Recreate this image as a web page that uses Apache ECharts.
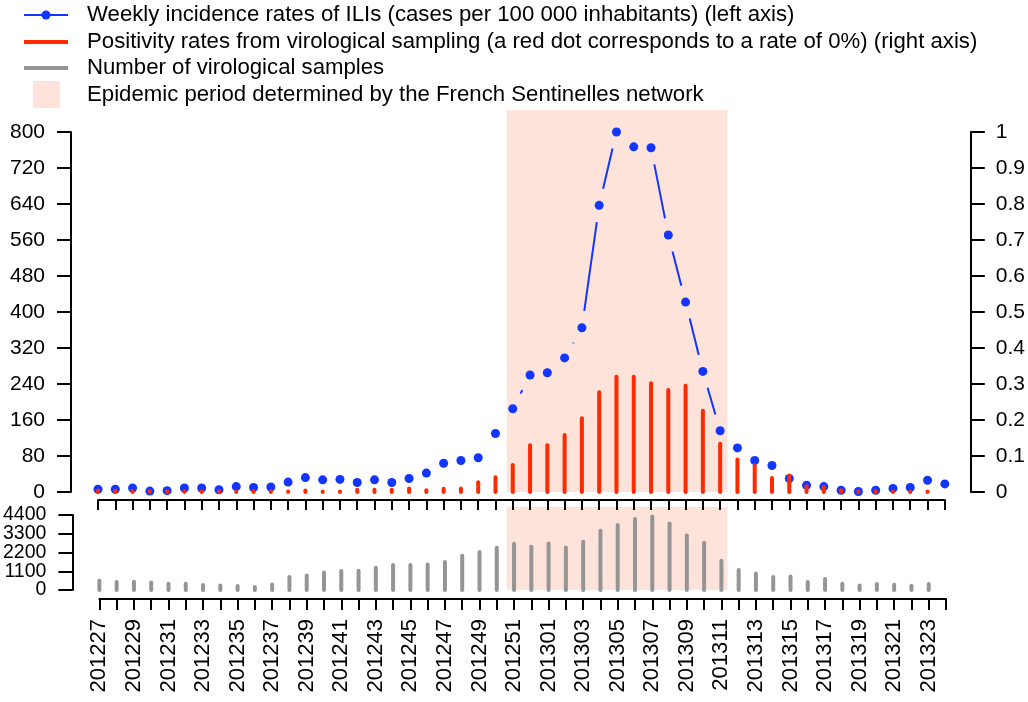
<!DOCTYPE html>
<html><head><meta charset="utf-8">
<script src="https://cdn.jsdelivr.net/npm/echarts@6/dist/echarts.min.js"></script>
<style>html,body{margin:0;padding:0;background:#fff}#c{width:1028px;height:702px}</style>
</head><body><div id="c"></div>
<script>
// ---- data ----
const weeks = ['201227','201228','201229','201230','201231','201232','201233','201234','201235','201236',
  '201237','201238','201239','201240','201241','201242','201243','201244','201245','201246',
  '201247','201248','201249','201250','201251','201252','201301','201302','201303','201304',
  '201305','201306','201307','201308','201309','201310','201311','201312','201313','201314',
  '201315','201316','201317','201318','201319','201320','201321','201322','201323','201324'];
const iliRates = [6,6,9,2,3,9,9,5,12,10,11,22,32,27,28,21,27,21,30,42,64,70,76,130,185,260,265,298,365,637,
  800,767,765,571,422,268,136,98,70,59,30,15,12,4,1,4,8,10,26,18];
const positivity = [0.004,0.004,0.003,0.002,0.002,0.002,0.002,0.002,0,0.002,0.003,0,0.004,0,0,0.006,0.006,0.006,0.01,0.005,
  0.009,0.01,0.027,0.041,0.075,0.13,0.13,0.158,0.205,0.277,0.32,0.32,0.302,0.283,0.295,0.226,0.134,0.09,0.074,0.039,
  0.046,0.016,0.014,0.005,0,0.002,0,0,0,null];
const samples = [545,469,487,446,370,370,293,270,235,176,328,762,856,1032,1114,1132,1308,1466,1466,1501,
  1642,2012,2229,2481,2716,2540,2735,2500,2833,3478,3812,4164,4317,3906,3202,2774,1718,1173,974,762,
  798,469,645,370,270,352,311,252,352,null];
const sampleTicks = [0, 1100, 2200, 3300, 4400];
const epidemicStart = '201251';
const epidemicEnd = '201311';
const legendLabels = [
  'Weekly incidence rates of ILIs (cases per 100 000 inhabitants) (left axis)',
  'Positivity rates from virological sampling (a red dot corresponds to a rate of 0%) (right axis)',
  'Number of virological samples',
  'Epidemic period determined by the French Sentinelles network'
];

// ---- style / layout ----
const BLUE = '#1236ff', RED = '#ff2a00', GRAY = '#959595', PINK = '#fde3d9';
const FONT = '"Liberation Sans", Arial, Helvetica, sans-serif';
const nW = weeks.length;
const BOT_TOP = 515, BOT_H = 75;
const sMin = sampleTicks[0], sMax = sampleTicks[sampleTicks.length - 1], sStep = sampleTicks[1] - sampleTicks[0];
const pxPerUnit = BOT_H / (sMax - sMin);
// auxiliary grid carrying the odd ticks (1100, 3300) on the same scale as the bottom panel
const AUX_TOP = BOT_TOP + (sMax - sampleTicks[3]) * pxPerUnit;
const AUX_H = (sampleTicks[3] - sampleTicks[1]) * pxPerUnit;

const chart = echarts.init(document.getElementById('c'), null, {renderer: 'canvas'});

const baseX = {type: 'value', min: 0, max: nW - 1, interval: 1, splitLine: {show: false}};
const axLine = {show: true, onZero: false, lineStyle: {color: '#000', width: 2}};
const axTick = (len) => ({show: true, length: len, inside: false, lineStyle: {color: '#000', width: 2}});
const yLabel = (margin, size) => ({margin: margin, fontSize: size, color: '#000', fontFamily: FONT,
  showMinLabel: true, showMaxLabel: true, hideOverlap: false, formatter: (v) => String(v)});

function stem(color, width) {
  return function (params, api) {
    const v = api.value(1);
    if (v == null || isNaN(v)) return null;
    const p0 = api.coord([api.value(0), 0]);
    const p1 = api.coord([api.value(0), v]);
    const y2 = Math.abs(p1[1] - p0[1]) < 0.5 ? p0[1] - 0.5 : p1[1];
    return {type: 'line', shape: {x1: p0[0], y1: p0[1], x2: p1[0], y2: y2},
      style: {stroke: color, lineWidth: width, lineCap: 'round'}};
  };
}
function shade(params, api) {
  const a = api.coord([api.value(0), 1]);
  const b = api.coord([api.value(1), 0]);
  return {type: 'rect', shape: {x: a[0], y: a[1], width: b[0] - a[0], height: b[1] - a[1]},
    style: {fill: PINK}};
}
const GAP = 17;
function brokenLine(params, api) {
  const i = api.value(0);
  if (i >= nW - 1) return null;
  const p1 = api.coord([i, api.value(1)]);
  const p2 = api.coord([i + 1, iliRates[i + 1]]);
  const dx = p2[0] - p1[0], dy = p2[1] - p1[1];
  const d = Math.sqrt(dx * dx + dy * dy);
  if (d <= 2 * GAP) return null;
  const ux = dx / d, uy = dy / d;
  return {type: 'line', shape: {x1: p1[0] + ux * GAP, y1: p1[1] + uy * GAP, x2: p2[0] - ux * GAP, y2: p2[1] - uy * GAP},
    style: {stroke: BLUE, lineWidth: 2}};
}

const sIdx = weeks.indexOf(epidemicStart) - 0.38;
const eIdx = weeks.indexOf(epidemicEnd) + 0.37;

const legendGraphics = [];
const rowY = [15, 42, 68, 95];
legendGraphics.push({type: 'line', shape: {x1: 24, y1: rowY[0], x2: 68, y2: rowY[0]}, style: {stroke: BLUE, lineWidth: 2}});
legendGraphics.push({type: 'circle', shape: {cx: 46, cy: rowY[0], r: 4.5}, style: {fill: BLUE}});
legendGraphics.push({type: 'line', shape: {x1: 24, y1: rowY[1], x2: 68, y2: rowY[1]}, style: {stroke: RED, lineWidth: 4}});
legendGraphics.push({type: 'line', shape: {x1: 24, y1: rowY[2], x2: 68, y2: rowY[2]}, style: {stroke: GRAY, lineWidth: 4}});
legendGraphics.push({type: 'rect', shape: {x: 33, y: 81, width: 27, height: 27}, style: {fill: PINK}});
legendLabels.forEach((t, k) => {
  legendGraphics.push({type: 'text', style: {text: t, x: 87, y: rowY[k], fill: '#000',
    font: '22.2px ' + FONT, verticalAlign: 'middle', align: 'left'}});
});

const option = {
  animation: false,
  backgroundColor: '#fff',
  textStyle: {fontFamily: FONT},
  grid: [
    {left: 98, right: 82, top: 132, height: 360},
    {left: 98, right: 82, top: BOT_TOP, height: BOT_H},
    {left: 98, right: 82, top: 110, height: 382},
    {left: 98, right: 82, top: 507, height: 83},
    {left: 98, right: 82, top: AUX_TOP, height: AUX_H}
  ],
  xAxis: [
    Object.assign({}, baseX, {gridIndex: 0, position: 'bottom', offset: 8, z: 5,
      axisLine: axLine, axisTick: axTick(10), axisLabel: {show: false}}),
    Object.assign({}, baseX, {gridIndex: 1, position: 'bottom', offset: 9, z: 5,
      axisLine: axLine, axisTick: axTick(11),
      axisLabel: {show: true, rotate: 90, margin: 20, fontSize: 22, color: '#000', fontFamily: FONT,
        showMinLabel: true, showMaxLabel: true, hideOverlap: false,
        formatter: (v) => (v % 2 === 0 && weeks[v]) ? weeks[v] : ''}}),
    Object.assign({}, baseX, {gridIndex: 2, show: false}),
    Object.assign({}, baseX, {gridIndex: 3, show: false}),
    Object.assign({}, baseX, {gridIndex: 4, show: false})
  ],
  yAxis: [
    {type: 'value', gridIndex: 0, position: 'left', min: 0, max: 800, interval: 80, offset: 27, z: 5,
      axisLine: axLine, axisTick: axTick(14), splitLine: {show: false}, axisLabel: yLabel(26, 21)},
    {type: 'value', gridIndex: 0, position: 'right', min: 0, max: 1, interval: 0.1, offset: 26, z: 5,
      axisLine: axLine, axisTick: axTick(14), splitLine: {show: false}, axisLabel: yLabel(25, 21)},
    {type: 'value', gridIndex: 1, position: 'left', min: sMin, max: sMax, interval: 2 * sStep, offset: 27, z: 5,
      axisLine: axLine, axisTick: axTick(14), splitLine: {show: false}, axisLabel: yLabel(26, 19.5)},
    {type: 'value', gridIndex: 2, min: 0, max: 1, show: false},
    {type: 'value', gridIndex: 3, min: 0, max: 1, show: false},
    {type: 'value', gridIndex: 4, position: 'left', min: sampleTicks[1], max: sampleTicks[3], interval: 2 * sStep,
      offset: 27, z: 5, axisLine: {show: false, onZero: false}, axisTick: axTick(14), splitLine: {show: false},
      axisLabel: yLabel(26, 19.5)}
  ],
  graphic: legendGraphics,
  series: [
    {name: 'Epidemic period (top)', type: 'custom', xAxisIndex: 2, yAxisIndex: 3, z: 0, silent: true,
      renderItem: shade, data: [[sIdx, eIdx]]},
    {name: 'Epidemic period (bottom)', type: 'custom', xAxisIndex: 3, yAxisIndex: 4, z: 0, silent: true,
      renderItem: shade, data: [[sIdx, eIdx]]},
    {name: 'ILI line', type: 'custom', xAxisIndex: 0, yAxisIndex: 0, z: 3, silent: true,
      renderItem: brokenLine, data: iliRates.map((v, i) => [i, v])},
    {name: legendLabels[0], type: 'scatter', xAxisIndex: 0, yAxisIndex: 0, z: 4,
      symbol: 'circle', symbolSize: 9, itemStyle: {color: BLUE, opacity: 1},
      data: iliRates.map((v, i) => [i, v])},
    {name: legendLabels[1], type: 'custom', xAxisIndex: 0, yAxisIndex: 1, z: 5,
      renderItem: stem(RED, 4), data: positivity.map((v, i) => [i, v]).filter(d => d[1] != null)},
    {name: legendLabels[2], type: 'custom', xAxisIndex: 1, yAxisIndex: 2, z: 5,
      renderItem: stem(GRAY, 4), data: samples.map((v, i) => [i, v]).filter(d => d[1] != null)}
  ]
};
chart.setOption(option);
</script></body></html>
